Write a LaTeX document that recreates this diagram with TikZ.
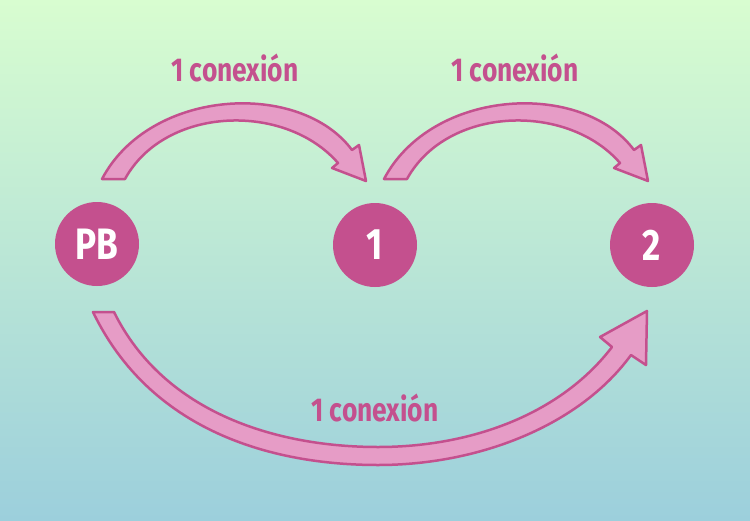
\documentclass[tikz,border=0pt]{standalone}
\usepackage{fontspec}
\setmainfont{Fira Sans}[FakeStretch=0.8]
\definecolor{mag}{HTML}{C4508E}
\definecolor{pinkf}{HTML}{E69CC6}
\definecolor{topc}{HTML}{D8FDD0}
\definecolor{botc}{HTML}{9CCFDC}
\begin{document}
\begin{tikzpicture}[x=1pt,y=-1pt,
  arr/.style={fill=pinkf,draw=mag,line width=2.5pt,line join=round},
  dot/.style={circle,fill=mag,minimum size=84pt,inner sep=0pt,text=white,font=\bfseries\fontsize{44}{44}\selectfont},
  lbl/.style={text=mag,font=\bfseries\fontsize{33}{33}\selectfont}]
\shade[top color=topc,bottom color=botc] (0,0) rectangle (750,520);
\useasboundingbox (0,0) rectangle (750,520);
\node[dot] (pb) at (97,244) {PB};
\node[dot] (n1) at (375,245) {1};
\node[dot] (n2) at (652,245) {2};
\draw[arr] (102,179) .. controls (150,88) and (300,80) .. (352,150) -- (359,145) -- (366,181) -- (332,168) -- (338,163) .. controls (285,102) and (165,106) .. (125,179) -- cycle;
\begin{scope}[xshift=282]
\draw[arr] (102,179) .. controls (150,88) and (300,80) .. (352,150) -- (359,145) -- (366,181) -- (332,168) -- (338,163) .. controls (285,102) and (165,106) .. (125,179) -- cycle;
\end{scope}
\draw[arr] (93,312) .. controls (150,430) and (270,465) .. (378,465) .. controls (480,465) and (580,425) .. (631,355) -- (646,365) -- (647,311) -- (600,337) -- (612,347) .. controls (560,415) and (470,447) .. (378,447) .. controls (280,447) and (165,415) .. (114,312) -- cycle;
\node[lbl] (l1) at (235,68) {1 conexión};
\node[lbl] (l2) at (515,68) {1 conexión};
\node[lbl] (l3) at (375,408) {1 conexión};
\end{tikzpicture}
\end{document}
